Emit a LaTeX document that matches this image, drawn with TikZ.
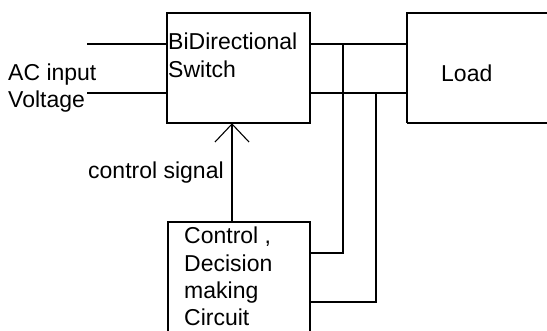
\documentclass[tikz,border=0pt]{standalone}
\usepackage{fontspec}
\setmainfont{Liberation Sans}
\begin{document}
\begin{tikzpicture}[x=1pt,y=-1pt,
  blk/.style={draw,line width=1.1pt},
  wire/.style={line width=1.1pt},
  lbl/.style={anchor=base west,inner sep=0pt,font=\fontsize{23}{28}\selectfont}]
\useasboundingbox (0,0) rectangle (547,331);
% boxes
\draw[blk] (167,13) rectangle (310,123);
\node[inner sep=0pt,minimum width=143pt,minimum height=110pt] (sw) at (238.5,68) {};
\draw[blk] (407,123) -- (407,13) -- (560,13);
\draw[blk] (407,123) -- (560,123);
\coordinate (ldA) at (407,44);
\coordinate (ldB) at (407,93);
\draw[blk] (168,335) -- (168,222) -- (310,222) -- (310,335);
\coordinate (cbTop) at (232,222);
\coordinate (cbR1) at (310,253);
\coordinate (cbR2) at (310,302);
% input lines
\coordinate (inA) at (87,44);
\coordinate (inB) at (87,93);
\coordinate (swA) at (167,44);
\coordinate (swB) at (167,93);
\draw[wire] (inA) -- (swA);
\draw[wire] (inB) -- (swB);
% output lines
\coordinate (soA) at (310,44);
\coordinate (soB) at (310,93);
\draw[wire] (soA) -- (ldA);
\draw[wire] (soB) -- (ldB);
% sense lines
\coordinate (j1) at (343,44);
\coordinate (j2) at (376,93);
\draw[wire] (j1) |- (cbR1);
\draw[wire] (j2) |- (cbR2);
% control signal
\coordinate (swBot) at (232,124);
\draw[wire] (cbTop) -- (swBot);
\draw[wire] (215,142) -- (swBot) -- (249,142);
% texts
\node[lbl] (t1) at (8,81) {AC input};
\node[lbl] (t2) at (8,108) {Voltage};
\node[lbl] (t3) at (168,50) {BiDirectional};
\node[lbl] (t4) at (168,78) {Switch};
\node[lbl] (t5) at (441,82) {Load};
\node[lbl] (t6) at (88,179) {control signal};
\node[lbl] (t7) at (184,244) {Control ,};
\node[lbl] (t8) at (184,272) {Decision};
\node[lbl] (t9) at (184,299) {making};
\node[lbl] (t10) at (184,326) {Circuit};
\end{tikzpicture}
\end{document}
